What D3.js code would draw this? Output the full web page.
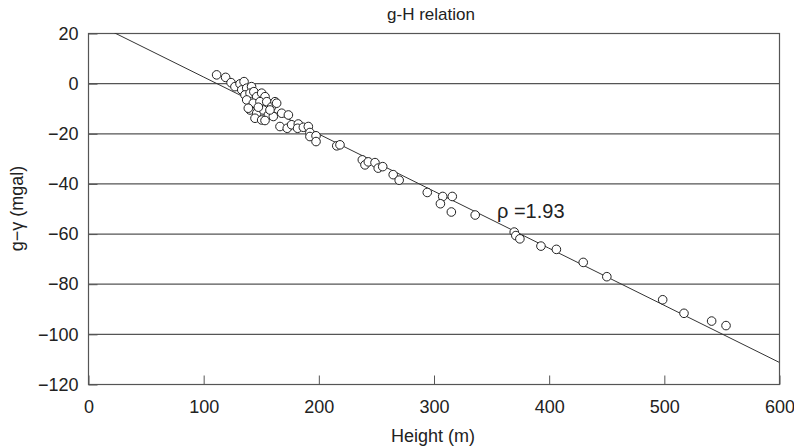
<!DOCTYPE html>
<html lang="en">
<head>
    <meta charset="UTF-8">
    <title>g-H relation</title>
    <style>
        body { margin: 0; background: #fff; }
        svg { font-family: "Liberation Sans", Arial, sans-serif; }
    </style>
</head>
<body>
    <div id="graphic"></div>

    <script src="https://cdn.jsdelivr.net/npm/d3@7"></script>
    <script>
        // height (m) and g - gamma (mgal)
        var heights = [111.7, 119.5, 124.2, 127.6, 132, 135.5, 133.5, 137.8, 142, 136.3,
            140.7, 144, 137.8, 146.5, 150.8, 153.7, 143.5, 149.3, 155.2, 140.7,
            146.5, 152.2, 159.5, 162.4, 145, 150.8, 156.6, 160.9, 166.7, 139.2,
            147.9, 158, 168.2, 174, 153.7, 163.8, 173, 176.8, 182.6, 182,
            187, 191.3, 192.7, 192.7, 198, 198, 216, 218.8, 238.2, 240.5,
            243.4, 249.2, 252, 255.9, 265, 270.2, 294.6, 308, 306, 316.3,
            315.5, 336.2, 370.1, 371.5, 375, 393.3, 406.7, 430, 450.5, 499,
            517.5, 541.5, 554];
        var anomalies = [3.3, 2.3, 0.2, -1.4, -0.3, 0.6, -2.7, -2, -1.4, -4.7,
            -4, -3.4, -6.7, -5.4, -4, -5.4, -8, -7.4, -7.4, -10.7,
            -12, -10.7, -9.4, -7.4, -14, -14.7, -12.7, -13.3, -17.3, -10,
            -9.6, -10.7, -12, -12.7, -14.9, -8, -18, -16.6, -16.3, -18,
            -17.6, -17.3, -19.7, -21.3, -21, -23.3, -25, -24.6, -30.6, -32.6,
            -31.4, -31.7, -33.9, -33.3, -36.5, -38.7, -43.6, -45.2, -48.1, -45.2,
            -51.4, -52.6, -59.4, -60.8, -62.1, -65, -66.3, -71.5, -77.2, -86.4,
            -91.8, -94.9, -96.7];

        // fitted line for rho = 1.93
        var fitIntercept = 25.3;
        var fitSlope = -0.2277;

        var xTicks = [0, 100, 200, 300, 400, 500, 600];
        var yTicks = [20, 0, -20, -40, -60, -80, -100, -120];

        var width = 794;
        var height = 447;
        var margin = {top: 33, right: 15, bottom: 63, left: 88};

        var data = heights.map(function(h, i) { return {h: h, g: anomalies[i]}; });

        var x = d3.scaleLinear().domain([0, 600]).range([margin.left, width - margin.right]);
        var y = d3.scaleLinear().domain([-120, 20]).range([height - margin.bottom, margin.top]);

        var svg = d3.select('#graphic')
            .append('svg')
            .attr('width', width)
            .attr('height', height);

        svg.append('defs').append('clipPath')
            .attr('id', 'plot')
            .append('rect')
            .attr('x', x(0)).attr('y', y(20))
            .attr('width', x(600) - x(0)).attr('height', y(-120) - y(20));

        // horizontal grid
        svg.append('g')
            .selectAll('line')
            .data(yTicks)
            .join('line')
            .attr('x1', x(0)).attr('x2', x(600))
            .attr('y1', function(d) { return y(d) + 0.5; })
            .attr('y2', function(d) { return y(d) + 0.5; })
            .attr('stroke', '#555')
            .attr('stroke-width', 1.2);

        // frame
        svg.append('rect')
            .attr('x', x(0) + 0.5).attr('y', y(20) + 0.5)
            .attr('width', x(600) - x(0)).attr('height', y(-120) - y(20))
            .attr('fill', 'none')
            .attr('stroke', '#555')
            .attr('stroke-width', 1.2);

        var yAxis = svg.append('g')
            .attr('transform', 'translate(' + (x(0) + 0.5) + ',0.5)')
            .call(d3.axisLeft(y).tickValues(yTicks).tickSizeInner(-9).tickSizeOuter(0).tickPadding(19));
        var xAxis = svg.append('g')
            .attr('transform', 'translate(0.5,' + (y(-120) + 0.5) + ')')
            .call(d3.axisBottom(x).tickValues(xTicks).tickSizeInner(-9).tickSizeOuter(0).tickPadding(16));

        [xAxis, yAxis].forEach(function(a) {
            a.select('.domain').remove();
            a.selectAll('line').attr('stroke', '#555');
            a.selectAll('text')
                .attr('fill', '#222')
                .style('font-size', '18px');
        });
        yAxis.selectAll('text').attr('dx', 9);

        // regression line
        var fitPoints = xTicks.map(function(h) { return {h: h, g: fitIntercept + fitSlope * h}; });
        svg.append('path')
            .datum(fitPoints)
            .attr('clip-path', 'url(#plot)')
            .attr('d', d3.line().x(function(d) { return x(d.h); }).y(function(d) { return y(d.g); }))
            .attr('fill', 'none')
            .attr('stroke', '#333')
            .attr('stroke-width', 1);

        svg.append('g')
            .selectAll('circle')
            .data(data)
            .join('circle')
            .attr('cx', function(d) { return x(d.h); })
            .attr('cy', function(d) { return y(d.g); })
            .attr('r', 4.3)
            .attr('fill', '#fff')
            .attr('stroke', '#222')
            .attr('stroke-width', 1);

        svg.append('text')
            .attr('x', 431).attr('y', 20)
            .attr('text-anchor', 'middle')
            .style('font-size', '17px')
            .attr('fill', '#222')
            .text('g-H relation');

        svg.append('text')
            .attr('x', 433).attr('y', 442)
            .attr('text-anchor', 'middle')
            .style('font-size', '18px')
            .attr('fill', '#222')
            .text('Height (m)');

        svg.append('text')
            .attr('transform', 'translate(23,' + y(-50) + ') rotate(-90)')
            .attr('text-anchor', 'middle')
            .style('font-size', '18px')
            .attr('fill', '#222')
            .text('g−γ (mgal)');

        svg.append('text')
            .attr('x', 497).attr('y', 218)
            .style('font-size', '20px')
            .attr('fill', '#222')
            .text('ρ =1.93');
    </script>
</body>
</html>
